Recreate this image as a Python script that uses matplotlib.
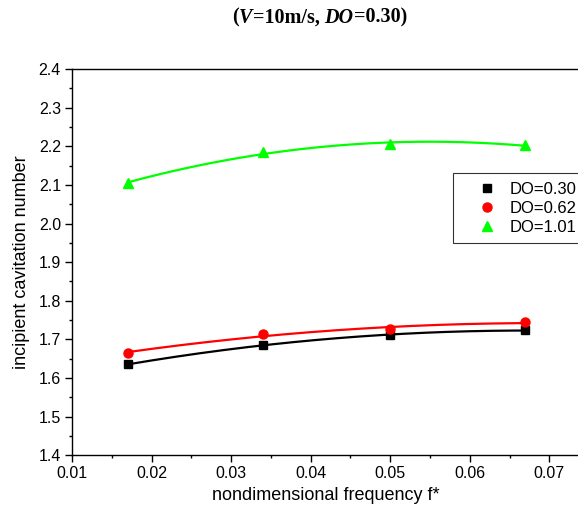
import numpy as np
from matplotlib import pyplot as plt
from matplotlib.ticker import MultipleLocator

# Data
freq = [0.017, 0.034, 0.050, 0.067]
do_030 = [1.635, 1.685, 1.712, 1.723]
do_062 = [1.665, 1.714, 1.726, 1.744]
do_101 = [2.105, 2.185, 2.205, 2.203]
labels = ['DO=0.30', 'DO=0.62', 'DO=1.01']
title_parts = [('(', 'normal'), ('V', 'italic'), ('=10m/s, ', 'normal'),
               ('DO', 'italic'), ('=0.30)', 'normal')]

plt.rcParams['font.family'] = ['Liberation Sans', 'DejaVu Sans']

fig = plt.figure(figsize=(5.78, 5.12), dpi=100)
ax = fig.add_axes([0.1246, 0.111, 0.878, 0.754])

xs = np.linspace(freq[0], freq[-1], 200)
series = [(do_030, 'black', 's', 5.5), (do_062, 'red', 'o', 6.5), (do_101, '#00ff00', '^', 7.5)]
for (vals, col, mk, ms), lab in zip(series, labels):
    # quadratic fit curve through the points
    c = np.polyfit(freq, vals, 2)
    ax.plot(xs, np.polyval(c, xs), color=col, lw=1.6)
    ax.plot(freq, vals, linestyle='none', marker=mk, color=col, ms=ms, label=lab)

ax.set_xlim(0.01, 0.0738)
ax.set_ylim(1.4, 2.4)
ax.xaxis.set_major_locator(MultipleLocator(0.01))
ax.xaxis.set_minor_locator(MultipleLocator(0.005))
ax.yaxis.set_major_locator(MultipleLocator(0.1))
ax.yaxis.set_minor_locator(MultipleLocator(0.05))
ax.xaxis.set_major_formatter(plt.FormatStrFormatter('%.2f'))
ax.yaxis.set_major_formatter(plt.FormatStrFormatter('%.1f'))
ax.tick_params(which='major', direction='out', length=5, width=1, labelsize=11.5, pad=3)
ax.tick_params(which='minor', direction='out', length=2.5, width=1)
ax.tick_params(top=False, right=False, which='both')
for s in ax.spines.values():
    s.set_linewidth(1)

ax.set_xlabel('nondimensional frequency f*', fontsize=13, labelpad=4)
ax.set_ylabel('incipient cavitation number', fontsize=13, labelpad=6)

leg = ax.legend(loc='upper left', bbox_to_anchor=(0.735, 0.752), frameon=True,
                fancybox=False, edgecolor='black', fontsize=12, handletextpad=-0.15,
                borderpad=0.5, labelspacing=0.25, handlelength=3.0)
leg.get_frame().set_linewidth(0.8)

# title built from pieces so V and DO are italic
fig.canvas.draw()
r = fig.canvas.get_renderer()
pieces = []
total = 0
for txt, st in title_parts:
    t = fig.text(0, 0.965, txt, fontsize=14.5, fontweight='bold', fontstyle=st,
                 family='Liberation Serif', va='center', ha='left')
    w = t.get_window_extent(r).width
    pieces.append((t, w))
    total += w
x0 = 0.553 * fig.bbox.width - total / 2
for t, w in pieces:
    t.set_x(x0 / fig.bbox.width)
    x0 += w

fig.savefig('out.png', dpi=100)
